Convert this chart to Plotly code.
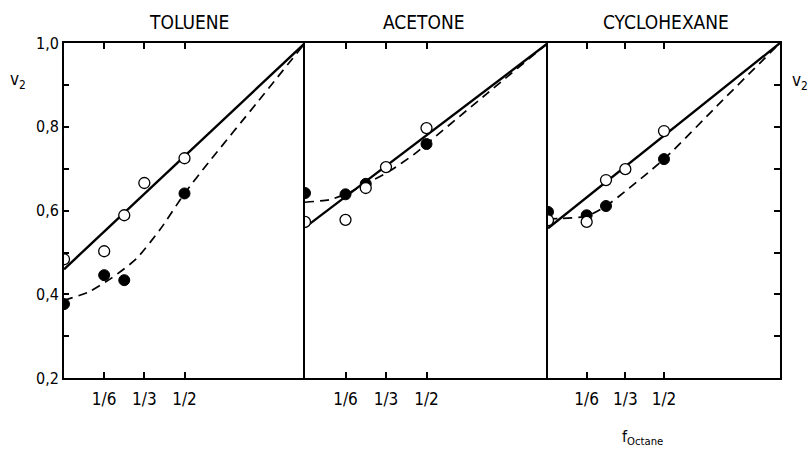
import plotly.graph_objects as go

# ---------------- data ----------------
panels = ["TOLUENE", "ACETONE", "CYCLOHEXANE"]

frac_ticks = [1/6, 1/3, 1/2]
frac_labels = ["1/6", "1/3", "1/2"]

# Toluene
tol_open_x = [0, 1/6, 0.25, 1/3, 0.5]
tol_open_y = [0.484, 0.503, 0.589, 0.666, 0.725]
tol_fill_x = [0, 1/6, 0.25, 0.5]
tol_fill_y = [0.377, 0.446, 0.434, 0.641]
tol_solid_x = [0, 1]
tol_solid_y = [0.46, 1.0]
tol_dash_x = [0, 0.1, 0.2, 0.3, 0.4, 0.5, 0.6, 0.8, 1.0]
tol_dash_y = [0.386, 0.405, 0.44, 0.485, 0.556, 0.641, 0.715, 0.857, 1.0]

# Acetone
ace_open_x = [0, 1/6, 0.25, 1/3, 0.5]
ace_open_y = [0.573, 0.578, 0.654, 0.704, 0.797]
ace_fill_x = [0, 1/6, 0.25, 0.5]
ace_fill_y = [0.642, 0.639, 0.664, 0.759]
ace_solid_x = [0, 1]
ace_solid_y = [0.56, 1.0]
ace_dash_x = [0, 0.1, 1/6, 0.25, 0.35, 0.45, 0.5, 0.75, 1.0]
ace_dash_y = [0.62, 0.626, 0.639, 0.664, 0.695, 0.735, 0.759, 0.88, 1.0]

# Cyclohexane
cyc_open_x = [0, 1/6, 0.25, 1/3, 0.5]
cyc_open_y = [0.577, 0.573, 0.673, 0.699, 0.790]
cyc_fill_x = [0, 1/6, 0.25, 0.5]
cyc_fill_y = [0.597, 0.589, 0.611, 0.723]
cyc_solid_x = [0, 1]
cyc_solid_y = [0.558, 1.0]
cyc_dash_x = [0, 1/6, 0.25, 0.5, 0.75, 1.0]
cyc_dash_y = [0.58, 0.587, 0.611, 0.723, 0.862, 1.0]

data_sets = [
    (tol_open_x, tol_open_y, tol_fill_x, tol_fill_y, tol_solid_x, tol_solid_y, tol_dash_x, tol_dash_y),
    (ace_open_x, ace_open_y, ace_fill_x, ace_fill_y, ace_solid_x, ace_solid_y, ace_dash_x, ace_dash_y),
    (cyc_open_x, cyc_open_y, cyc_fill_x, cyc_fill_y, cyc_solid_x, cyc_solid_y, cyc_dash_x, cyc_dash_y),
]

# ---------------- layout geometry ----------------
W, H = 810, 458
FONT = "Liberation Sans Narrow, DejaVu Sans Condensed, Arial Narrow, sans-serif"
px_edges = [64, 305, 548, 780]


def py(y_px):
    """screen-pixel row (from top) -> paper fraction, compensating the
    vertical squeeze observed in the rendered page"""
    return 1 - ((y_px - 9) / 0.958) / H


y_dom = [py(378), py(43)]

fig = go.Figure()

for i, (ox, oy, fx, fy, sx, sy, dx, dy) in enumerate(data_sets):
    sfx = "" if i == 0 else str(i + 1)
    xa, ya = "x" + sfx, "y" + sfx
    fig.add_trace(go.Scatter(x=dx, y=dy, mode="lines", xaxis=xa, yaxis=ya,
                             line=dict(color="black", width=1.7, dash="9px,6px", shape="spline", smoothing=0.6),
                             showlegend=False))
    fig.add_trace(go.Scatter(x=sx, y=sy, mode="lines", xaxis=xa, yaxis=ya,
                             line=dict(color="black", width=2.4), showlegend=False))
    fig.add_trace(go.Scatter(x=fx, y=fy, mode="markers", xaxis=xa, yaxis=ya,
                             marker=dict(symbol="circle", size=11, color="black",
                                         line=dict(color="black", width=1)),
                             showlegend=False))
    fig.add_trace(go.Scatter(x=ox, y=oy, mode="markers", xaxis=xa, yaxis=ya,
                             marker=dict(symbol="circle", size=11, color="white",
                                         line=dict(color="black", width=1.3)),
                             showlegend=False))

layout = dict(
    width=W, height=H,
    margin=dict(l=0, r=0, t=0, b=0),
    paper_bgcolor="white", plot_bgcolor="white",
    font=dict(family=FONT, color="black"),
    separators=", ",
    showlegend=False,
)

minor_ticks = dict(tick0=0.2, dtick=0.1, ticks="inside", ticklen=5, tickwidth=1.5, tickcolor="black")

for i in range(3):
    sfx = "" if i == 0 else str(i + 1)
    layout["xaxis" + sfx] = dict(
        domain=[px_edges[i] / W, px_edges[i + 1] / W],
        range=[0, 1], anchor="y" + sfx,
        showgrid=False, zeroline=False,
        showline=True, linecolor="black", linewidth=1.8, mirror="ticks",
        ticks="inside", ticklen=6, tickwidth=1.5, tickcolor="black",
        tickvals=frac_ticks, ticktext=frac_labels,
        tickfont=dict(family=FONT, size=17, color="black"),
        ticklabelstandoff=5,
        fixedrange=True,
    )
    yax = dict(
        domain=y_dom, range=[0.2, 1.0001], anchor="x" + sfx,
        showgrid=False, zeroline=False,
        showline=True, linecolor="black", linewidth=1.8,
        tickmode="linear", tick0=0.2, dtick=0.2, tickformat=".1f",
        tickfont=dict(family=FONT, size=16, color="black"),
        fixedrange=True,
    )
    if i == 0:
        yax.update(ticks="inside", ticklen=5, tickwidth=1.5, tickcolor="black",
                   showticklabels=True, side="left", mirror=False, minor=minor_ticks)
    elif i == 1:
        yax.update(ticks="", showticklabels=False, side="left", mirror=False)
    else:
        yax.update(ticks="inside", ticklen=6, tickwidth=1.5, tickcolor="black",
                   showticklabels=False, side="right", mirror=True,
                   minor=dict(minor_ticks, ticklen=6))
    layout["yaxis" + sfx] = yax

fig.update_layout(**layout)

centers = [189, 424, 666]
for name, cx in zip(panels, centers):
    fig.add_annotation(x=cx / W, y=py(22), xref="paper", yref="paper",
                       text=name, showarrow=False,
                       font=dict(family=FONT, size=19, color="black"),
                       xanchor="center", yanchor="middle")

fig.add_annotation(x=18 / W, y=py(80), xref="paper", yref="paper",
                   text="v<sub>2</sub>", showarrow=False,
                   font=dict(family=FONT, size=17, color="black"),
                   xanchor="center", yanchor="middle")
fig.add_annotation(x=800 / W, y=py(81), xref="paper", yref="paper",
                   text="v<sub>2</sub>", showarrow=False,
                   font=dict(family=FONT, size=17, color="black"),
                   xanchor="center", yanchor="middle")
fig.add_annotation(x=642 / W, y=py(437), xref="paper", yref="paper",
                   text="f<sub>Octane</sub>", showarrow=False,
                   font=dict(family=FONT, size=16, color="black"),
                   xanchor="center", yanchor="middle")

post = (
    "document.documentElement.style.margin='0';"
    "document.documentElement.style.overflow='hidden';"
    "document.body.style.margin='0';"
    "document.body.style.padding='0';"
    "document.body.style.overflow='hidden';"
    "var gd=document.getElementById('{plot_id}');"
    "gd.style.position='fixed';gd.style.top='0px';gd.style.left='0px';"
)

fig.write_html("out.html", config={"displayModeBar": False}, post_script=post)
